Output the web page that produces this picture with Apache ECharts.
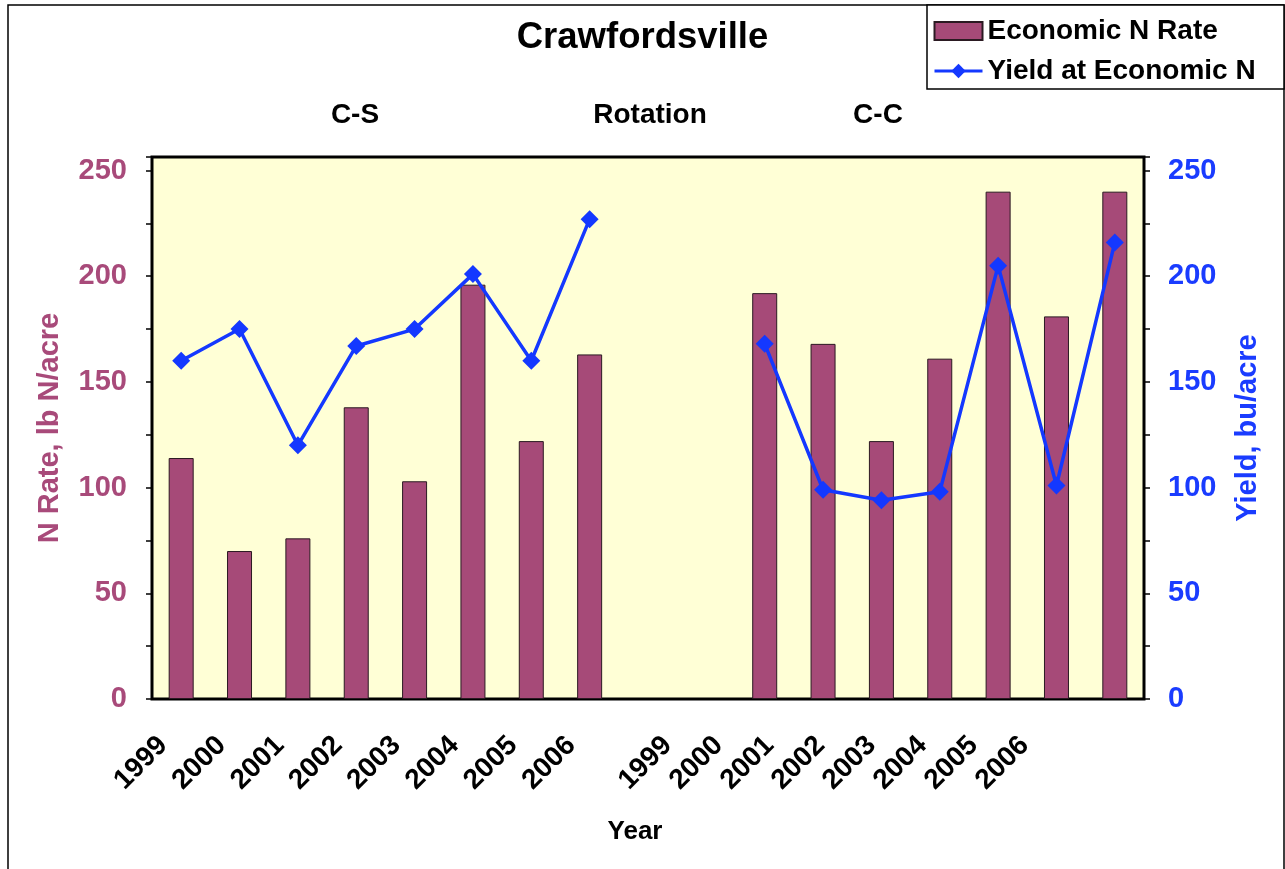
<!DOCTYPE html>
<html>
<head>
<meta charset="utf-8">
<script src="https://cdn.jsdelivr.net/npm/echarts@6/dist/echarts.min.js"></script>
<style>
html,body{margin:0;padding:0;background:#fff;}
#chart{width:1285px;height:869px;}
</style>
</head>
<body>
<div id="chart"></div>
<script>
// ---- data ----
const csYears = ['1999','2000','2001','2002','2003','2004','2005','2006'];
const ccYears = ['1999','2000','2001','2002','2003','2004','2005','2006'];
const categories = csYears.map(y => 'C-S ' + y).concat([' '], ccYears.map(y => 'C-C ' + y));
const nRate      = [114, 70, 76, 138, 103, 196, 122, 163, null, null, 192, 168, 122, 161, 240, 181, 240];
const yieldEconN = [160, 175, 120, 167, 175, 201, 160, 227, null, null, 168, 99, 94, 98, 205, 101, 216];
const yTicksLabelled = [0, 50, 100, 150, 200, 250];
const titleText = 'Crawfordsville';
const rotationLabels = ['C-S', 'Rotation', 'C-C'];
const seriesNames = ['Economic N Rate', 'Yield at Economic N'];

// ---- styles ----
const FONT = "'Liberation Sans', Arial, Helvetica, sans-serif";
const MAROON = '#A84A7A';
const BAR = '#A64A78';
const BLUE = '#1438FF';
const BLUE_TXT = '#1A3CFF';

const chart = echarts.init(document.getElementById('chart'), null, {renderer: 'canvas'});

const valueAxisBase = {
  type: 'value', min: 0, max: 256.4, interval: 25,
  splitLine: {show: false},
  axisLine: {show: false},
  axisTick: {show: true, inside: false, length: 6, lineStyle: {color: '#000', width: 1.5}},
  nameLocation: 'middle', nameRotate: 90
};
function tickFmt(v) { return yTicksLabelled.indexOf(v) >= 0 ? String(v) : ''; }

const labelAxis = (gi, data) => ({
  type: 'category', gridIndex: gi, data: data,
  axisLine: {show: false}, axisTick: {show: false}, splitLine: {show: false},
  axisLabel: {show: true, rotate: 45, margin: 42, interval: 0,
    color: '#000', fontSize: 28, fontWeight: 'bold', fontFamily: FONT}
});

const option = {
  backgroundColor: '#fff',
  animation: false,
  title: {
    text: titleText, left: 'center', top: 19, padding: 0,
    textStyle: {fontSize: 36.5, fontWeight: 'bold', color: '#000', fontFamily: FONT}
  },
  legend: {
    orient: 'vertical', left: 933, top: 17, padding: 0,
    itemWidth: 48, itemHeight: 18, itemGap: 12,
    lineStyle: {width: 3},
    data: [{name: seriesNames[0], icon: 'rect'}, {name: seriesNames[1]}],
    textStyle: {fontSize: 28, fontWeight: 'bold', color: '#000', fontFamily: FONT}
  },
  grid: [
    {left: 152, right: 141, top: 157, bottom: 170, show: true,
     backgroundColor: '#FFFFD6', borderColor: '#000', borderWidth: 3, containLabel: false},
    {left: 134, width: 466.4, top: 157, bottom: 170, show: false},
    {left: 642, width: 408, top: 157, bottom: 170, show: false}
  ],
  xAxis: [
    {type: 'category', gridIndex: 0, data: categories,
     axisLine: {show: false}, axisTick: {show: false}, axisLabel: {show: false}, splitLine: {show: false}},
    labelAxis(1, csYears),
    labelAxis(2, ccYears)
  ],
  yAxis: [
    Object.assign({}, valueAxisBase, {
      gridIndex: 0, position: 'left',
      name: 'N Rate, lb N/acre', nameGap: 88,
      nameTextStyle: {color: MAROON, fontSize: 29, fontWeight: 'bold', fontFamily: FONT},
      axisLabel: {formatter: tickFmt, color: MAROON, fontSize: 29, fontWeight: 'bold', fontFamily: FONT, margin: 25}
    }),
    Object.assign({}, valueAxisBase, {
      gridIndex: 0, position: 'right',
      name: 'Yield, bu/acre', nameGap: 89,
      nameTextStyle: {color: BLUE_TXT, fontSize: 29, fontWeight: 'bold', fontFamily: FONT},
      axisLabel: {formatter: tickFmt, color: BLUE_TXT, fontSize: 29, fontWeight: 'bold', fontFamily: FONT, margin: 24}
    }),
    {type: 'value', gridIndex: 1, show: false},
    {type: 'value', gridIndex: 2, show: false}
  ],
  series: [
    {
      name: seriesNames[0], type: 'bar', xAxisIndex: 0, yAxisIndex: 0,
      data: nRate, barWidth: 25,
      itemStyle: {color: BAR, borderColor: '#2b1a22', borderWidth: 1}
    },
    {
      name: seriesNames[1], type: 'line', xAxisIndex: 0, yAxisIndex: 1,
      data: yieldEconN, connectNulls: false,
      symbol: 'diamond', symbolSize: 18, showAllSymbol: true,
      lineStyle: {color: BLUE, width: 3.5},
      itemStyle: {color: BLUE},
      z: 5
    }
  ],
  graphic: [
    {type: 'rect', z: 0, silent: true, shape: {x: 8, y: 5, width: 1276, height: 880},
     style: {fill: 'none', stroke: '#000', lineWidth: 1.5}},
    {type: 'rect', z: 1, silent: true, shape: {x: 927, y: 5, width: 357, height: 84},
     style: {fill: '#fff', stroke: '#000', lineWidth: 1.5}},
    {type: 'text', z: 2, x: 355, y: 115, style: {text: rotationLabels[0], textAlign: 'center', textVerticalAlign: 'middle',
      fontSize: 28, fontWeight: 'bold', fontFamily: FONT, fill: '#000'}},
    {type: 'text', z: 2, x: 650, y: 115, style: {text: rotationLabels[1], textAlign: 'center', textVerticalAlign: 'middle',
      fontSize: 28, fontWeight: 'bold', fontFamily: FONT, fill: '#000'}},
    {type: 'text', z: 2, x: 878, y: 115, style: {text: rotationLabels[2], textAlign: 'center', textVerticalAlign: 'middle',
      fontSize: 28, fontWeight: 'bold', fontFamily: FONT, fill: '#000'}},
    {type: 'text', z: 2, x: 635, y: 832, style: {text: 'Year', textAlign: 'center', textVerticalAlign: 'middle',
      fontSize: 26, fontWeight: 'bold', fontFamily: FONT, fill: '#000'}}
  ]
};
chart.setOption(option);
</script>
</body>
</html>
